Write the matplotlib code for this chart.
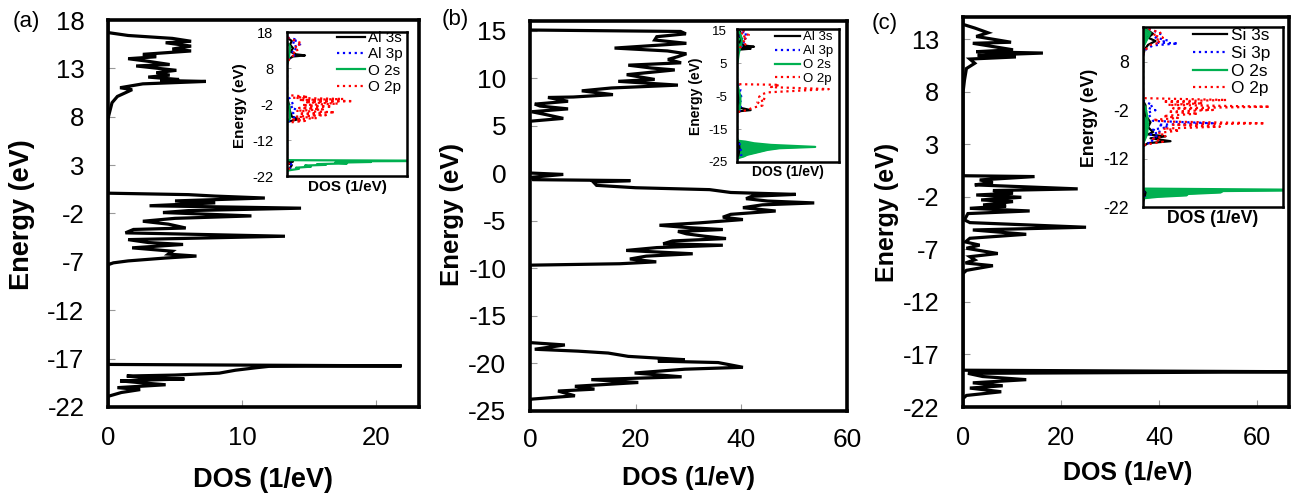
import matplotlib
matplotlib.use("Agg")
import matplotlib.pyplot as plt

plt.rcParams['font.family'] = ['Liberation Sans', 'DejaVu Sans']
plt.rcParams['axes.unicode_minus'] = False

# ---- data: (energy eV, DOS 1/eV) ----
# (a) total DOS
a_total = [(18, 0), (16.7, 0), (16.4, 1.5), (16.1, 4.8), (15.8, 6.2), (15.65, 4.3), (15.3, 6.2), (15.0, 4.8),
           (14.8, 6.2), (14.45, 2.6), (14.2, 3.6), (14.0, 1.5), (13.75, 2.9), (13.4, 4.6), (13.25, 2.1),
           (12.8, 5.1), (12.55, 3.6), (12.3, 4.6), (12.1, 3.0), (11.85, 5.3), (11.75, 3.9), (11.65, 7.3),
           (11.4, 2.6), (11.0, 0.9), (10.8, 1.8), (10.1, 0.7), (9.45, 0.3), (8.1, 0.05), (7.7, 0),
           (0.1, 0), (-0.05, 6), (-0.2, 8), (-0.4, 11.7), (-0.7, 5), (-0.9, 8), (-1.2, 3.1), (-1.45, 14.4),
           (-1.7, 6), (-1.9, 4.1), (-2.25, 10.7), (-2.5, 5), (-2.8, 2.6), (-3.1, 4.5), (-3.5, 5.8), (-3.65, 1.9),
           (-4.0, 1.3), (-4.35, 13.2), (-4.7, 1.5), (-5.0, 3), (-5.2, 5.6), (-5.55, 1.8), (-5.9, 4.8),
           (-6.2, 4.5), (-6.4, 6.6), (-6.6, 4.3), (-6.9, 1.5), (-7.1, 0.4), (-7.3, 0),
           (-17.6, 0), (-17.75, 21.9), (-17.8, 12), (-17.95, 11.0), (-18.2, 9.5), (-18.5, 8.3), (-18.7, 5),
           (-18.8, 1.4), (-19.0, 3), (-19.1, 5.7), (-19.3, 0.9), (-19.5, 2.5), (-19.7, 4.3), (-20.0, 0.7),
           (-20.2, 2.4), (-20.5, 1), (-20.9, 0), (-22, 0)]

# (b) total DOS
b_total = [(16.05, 0), (15.1, 0), (14.95, 28.5), (14.7, 29.5), (14.4, 24), (14.05, 23.6), (13.7, 29.6),
           (13.2, 16), (12.9, 26), (12.6, 29.6), (12.3, 28), (12.0, 26.1), (11.65, 28.6), (11.4, 18.6),
           (11.1, 23), (10.9, 27.4), (10.4, 18.3), (9.9, 23.6), (9.7, 16.7), (9.3, 28), (9.0, 15.4), (8.7, 9.8),
           (8.3, 15.7), (8.05, 8.2), (8.0, 3.4), (7.6, 7.2), (7.3, 0.9), (7.1, 1.9), (6.8, 7.2), (6.5, 0.3),
           (6.2, 3), (5.8, 6.3), (5.5, 0),
           (0.05, 0), (-0.1, 6.3), (-0.4, 0.3), (-0.65, 0.6), (-0.75, 19), (-0.9, 12), (-1.25, 12.6),
           (-1.5, 20), (-1.7, 34), (-2.0, 38), (-2.2, 50.3), (-2.4, 42), (-2.65, 40.9), (-2.9, 45), (-3.1, 53.8),
           (-3.3, 44), (-3.6, 40.3), (-3.95, 46.5), (-4.3, 38), (-4.6, 36.5), (-4.85, 40.3), (-5.2, 32),
           (-5.45, 24.5), (-5.7, 30), (-5.9, 36.5), (-6.1, 28), (-6.35, 29.6), (-6.6, 33), (-6.85, 37.1),
           (-7.1, 27), (-7.4, 25.2), (-7.55, 36.5), (-7.8, 24), (-8.1, 18.2), (-8.45, 30.8), (-8.7, 22),
           (-9.0, 18.9), (-9.3, 23.9), (-9.5, 17), (-9.65, 0),
           (-17.8, 0), (-18.05, 6.6), (-18.5, 0.9), (-18.7, 9.1), (-18.9, 14.8), (-19.25, 18.6), (-19.6, 29.3),
           (-19.75, 24.2), (-19.9, 35.6), (-20.4, 40.3), (-20.6, 29.3), (-21.0, 19.8), (-21.4, 28.7),
           (-21.7, 11.6), (-22.0, 20.5), (-22.4, 8.5), (-22.7, 12.2), (-22.9, 5.3), (-23.4, 8.5), (-23.75, 0.3),
           (-23.9, 0), (-25, 0)]

# (c) total DOS
c_total = [(15.1, 0), (14.4, 0), (14.05, 2.4), (13.6, 5.1), (13.25, 2.7), (12.7, 9.8), (12.6, 2), (11.98, 10.2),
           (11.8, 2.7), (11.67, 16.3), (11.45, 3), (11.3, 10.8), (11.1, 1.4), (10.7, 2.4), (10.2, 0.7),
           (9.1, 0.3), (8.3, 0.1), (8.0, 0),
           (0.0, 0), (-0.08, 14.6), (-0.4, 3.4), (-0.65, 6.1), (-0.87, 2.4), (-1.25, 23.4), (-1.41, 6.1),
           (-1.67, 10.2), (-1.83, 2.7), (-2.05, 11.9), (-2.3, 3.7), (-2.46, 10.2), (-2.78, 4.1), (-2.87, 8.8),
           (-3.1, 1.4), (-3.35, 13.6), (-3.6, 1), (-4.2, 0.3), (-4.46, 1.4), (-4.9, 25.1), (-5.16, 2.0),
           (-5.57, 12.9), (-5.95, 1.4), (-6.3, 0.5), (-6.6, 3.4), (-6.9, 0.7), (-7.4, 7.1), (-7.7, 1.4),
           (-8.0, 2.4), (-8.3, 0.5), (-8.56, 6.1), (-9.0, 0.7), (-9.3, 0),
           (-18.5, 0), (-18.65, 70), (-18.8, 1), (-19.1, 4), (-19.4, 12.9), (-19.7, 2), (-19.98, 8.1),
           (-20.2, 1.4), (-20.55, 7.8), (-20.9, 0.7), (-21.2, 0), (-22, 0)]

# (a) inset: partial DOS
a_s = [(18, 0), (16.5, 0), (15.5, 0.8), (14.5, 0.5), (13.5, 1.0), (12.5, 0.6), (11.8, 1.5), (11.5, 3.0),
       (11.2, 1.0), (10.5, 0.3), (9, 0), (0, 0), (-2, 0.3), (-4, 0.5), (-5.5, 0.8), (-6.2, 2.0), (-6.5, 1.2),
       (-7, 0), (-17.8, 0), (-18, 1.0), (-18.5, 0.3), (-19, 0.8), (-20, 0.4), (-20.8, 0), (-22, 0)]
a_p = [(18, 0), (16.5, 0), (15.8, 1.8), (15.2, 0.8), (14.5, 2.2), (13.8, 1.0), (13.0, 1.6), (12.2, 0.7),
       (11.5, 1.2), (10.5, 0.3), (9, 0), (0, 0), (-0.5, 0.5), (-1.5, 0.8), (-2.5, 1.2), (-3, 0.6), (-3.5, 1.5),
       (-4.5, 1.0), (-5.5, 1.4), (-6.5, 0.6), (-7, 0), (-18, 0), (-18.5, 0.6), (-19.5, 0.9), (-20.5, 0), (-22, 0)]
a_o2s = [(18, 0), (15, 0), (14, 0.5), (12, 0.4), (11, 0.3), (9, 0), (-1, 0), (-3, 0.4), (-6, 0.5), (-7, 0),
         (-17.6, 0), (-17.8, 30), (-17.9, 12), (-18.1, 14), (-18.3, 8), (-18.5, 10), (-18.7, 5), (-18.9, 6.5),
         (-19.1, 3), (-19.4, 4), (-19.7, 1.5), (-20.0, 2), (-20.5, 0), (-22, 0)]
a_o2p = [(18, 0), (16.5, 0), (15.5, 1.5), (14.8, 2.5), (14, 1.3), (13.2, 2.0), (12.5, 1.0), (11.8, 1.5),
         (11, 0.5), (9, 0), (0.5, 0), (0.0, 3.5), (-0.3, 1), (-0.6, 9.4), (-0.9, 2), (-1.2, 11), (-1.5, 3),
         (-1.9, 8.5), (-2.3, 2.5), (-2.7, 7.5), (-3.1, 2), (-3.5, 6), (-3.9, 1.5), (-4.3, 8), (-4.7, 2),
         (-5.1, 6.5), (-5.5, 1.5), (-5.9, 5), (-6.3, 1), (-6.7, 3), (-7.2, 0), (-18, 0), (-19, 0.5),
         (-20, 0.3), (-21, 0), (-22, 0)]

# (b) inset
b_s = [(15.5, 0), (14.5, 2), (13.5, 1), (12.5, 3), (11.5, 1.5), (10.5, 4), (10.1, 10), (9.8, 3), (9.5, 8),
       (9.2, 1), (8.5, 0), (0, 0), (-3, 0.5), (-6, 1), (-8.5, 2), (-9.2, 8), (-9.5, 2), (-10, 0), (-18, 0),
       (-19, 1), (-21, 1.5), (-23, 0.8), (-24, 0), (-25, 0)]
b_p = [(15.5, 0), (14.8, 3), (14, 6), (13.3, 2), (12.6, 5), (12, 3), (11.3, 4), (10.6, 2), (10, 3), (9, 1),
       (8, 0), (0, 0), (-1, 0.5), (-2, 1), (-3, 2), (-4, 1.5), (-5, 2.5), (-6, 1.5), (-7, 2.5), (-8, 2), (-9, 3),
       (-9.5, 1), (-10, 0), (-18, 0), (-19.5, 1.5), (-21, 2), (-22.5, 3), (-23.5, 2), (-24.2, 0), (-25, 0)]
b_o2s = [(15.5, 0), (14, 2), (12, 3), (10, 2), (8, 1), (6, 0.5), (5, 0), (-1, 0), (-3, 1), (-5, 2), (-7, 2),
         (-9, 1.5), (-10, 0), (-18.5, 0), (-18.8, 5), (-19.3, 10), (-19.8, 20), (-20.4, 46), (-20.8, 25),
         (-21.3, 18), (-21.8, 14), (-22.3, 10), (-22.8, 6), (-23.3, 4), (-23.9, 0), (-25, 0)]
b_o2p = [(15.5, 0), (15, 4), (14.3, 2), (13.7, 7), (13, 3), (12.3, 6), (11.5, 3), (10.8, 5), (10, 2), (9, 1),
         (8, 0), (-1.3, 0), (-1.5, 25), (-2.2, 20), (-2.8, 54), (-3.8, 18), (-4.5, 14), (-5.2, 13), (-6.0, 17),
         (-6.8, 12), (-7.8, 15), (-8.5, 9), (-9.2, 6), (-9.8, 0), (-25, 0)]

# (c) inset
c_s = [(15.2, 0), (14.5, 1), (13.8, 2), (13, 1), (12.3, 2.5), (11.5, 1), (10.5, 0.3), (9, 0), (0, 0),
       (-1, 0.5), (-3, 0.5), (-4.5, 1.5), (-5.5, 1), (-6.5, 2), (-7, 1), (-7.4, 4.5), (-7.8, 1.5), (-8.4, 5.5),
       (-8.8, 1), (-9.5, 0), (-18.5, 0), (-19, 0.5), (-20, 0.3), (-21, 0), (-22, 0)]
c_p = [(15.2, 0), (14.5, 2), (13.8, 3.5), (13, 2.5), (12.4, 5), (12, 3), (11.8, 7), (11.4, 2), (10.5, 0.5),
       (9.5, 0), (0, 0), (-0.5, 1), (-1, 2), (-1.5, 1), (-2, 2.5), (-2.5, 1), (-3.5, 1.5), (-4.2, 2), (-4.7, 14),
       (-5.0, 3), (-5.5, 5), (-6, 2), (-6.5, 3.5), (-7, 1.5), (-7.5, 3), (-8, 1.5), (-8.5, 2), (-9.2, 0),
       (-18.5, 0), (-19.5, 0.5), (-21, 0), (-22, 0)]
c_o2s = [(15.2, 0), (14, 1.5), (13, 1), (12, 0.5), (11, 0), (-0.5, 0), (-1.5, 0.5), (-3, 0.8), (-5, 1),
         (-7, 0.8), (-9, 0), (-18.2, 0), (-18.5, 40), (-18.7, 16), (-19.0, 15.5), (-19.3, 9), (-19.6, 8.7),
         (-19.9, 3), (-20.2, 0), (-22, 0)]
c_o2p = [(15.2, 0), (14.5, 2), (14, 3.5), (13.5, 2), (13, 4), (12.5, 2.5), (12, 3.5), (11.5, 1.5), (10.5, 0.5),
         (9.5, 0), (0.5, 0), (0.12, 16.7), (-0.2, 4), (-0.56, 12), (-0.9, 5), (-1.27, 25.4), (-1.6, 6),
         (-1.95, 14), (-2.3, 5), (-2.7, 11), (-3.2, 4), (-3.6, 7), (-4.0, 2), (-4.35, 5), (-4.7, 24.4),
         (-5.0, 6), (-5.4, 15.4), (-5.8, 4), (-6.2, 7.3), (-6.7, 3), (-7.3, 4.7), (-7.9, 2), (-8.5, 4),
         (-9.2, 0), (-22, 0)]

W, H = 1292, 496
fig = plt.figure(figsize=(W / 100, H / 100), dpi=100)
GREEN = '#00b050'


def px_axes(x0, x1, y0, y1, **kw):
    return fig.add_axes([x0 / W, 1 - y1 / H, (x1 - x0) / W, (y1 - y0) / H], **kw)


def curve(ax, pts, **kw):
    e = [p[0] for p in pts]
    d = [p[1] for p in pts]
    return ax.plot(d, e, **kw)


def main_panel(box, total, xlim, ylim, xticks, yticks, fs, xl_pos, yl_pos, xpad):
    ax = px_axes(*box)
    curve(ax, total, color='black', lw=2.3, solid_joinstyle='miter')
    ax.set_xlim(xlim)
    ax.set_ylim(ylim)
    ax.set_xticks(xticks)
    ax.set_yticks(yticks)
    ax.tick_params(direction='in', length=5, width=0.8, color='#999999', labelsize=fs[0])
    ax.tick_params(axis='y', pad=17)
    ax.tick_params(axis='x', pad=xpad)
    for s in ax.spines.values():
        s.set_linewidth(2.6)
    ax.text(xl_pos[0], xl_pos[1], 'DOS (1/eV)', transform=ax.transAxes, ha='center', va='center',
            fontsize=fs[1], fontweight='bold')
    ax.text(yl_pos[0], yl_pos[1], 'Energy (eV)', transform=ax.transAxes, ha='center', va='center',
            rotation=90, fontsize=fs[1], fontweight='bold')
    return ax


def inset(box, series, labels, xlim, ylim, yticks, fs, xl_pos, yl_pos, leg, fill_2s=False):
    ax = px_axes(*box, zorder=5)
    ax.set_facecolor('white')
    s, p, o2s, o2p = series
    if fill_2s:
        ax.fill_betweenx([q[0] for q in o2s], 0, [q[1] for q in o2s], color=GREEN, lw=0)
    curve(ax, s, color='black', lw=1.6, label=labels[0])
    curve(ax, p, color='blue', lw=1.6, ls=':', label=labels[1])
    curve(ax, o2s, color=GREEN, lw=1.6, label=labels[2])
    curve(ax, o2p, color='red', lw=1.6, ls=':', label=labels[3])
    ax.set_xlim(xlim)
    ax.set_ylim(ylim)
    ax.set_yticks(yticks)
    ax.set_xticks([])
    ax.tick_params(direction='in', length=3, width=0.6, color='#999999', labelsize=fs[0], pad=fs[2])
    for sp in ax.spines.values():
        sp.set_linewidth(1.8)
    ax.text(xl_pos[0], xl_pos[1], 'DOS (1/eV)', transform=ax.transAxes, ha='center', va='center',
            fontsize=fs[1], fontweight='bold')
    ax.text(yl_pos[0], yl_pos[1], 'Energy (eV)', transform=ax.transAxes, ha='center', va='center',
            rotation=90, fontsize=fs[1], fontweight='bold')
    hx, ty, lfs, hl, htp, ls = leg
    ax.legend(loc='upper left', bbox_to_anchor=(hx / W, 1 - ty / H), bbox_transform=fig.transFigure,
              frameon=False, borderpad=0, borderaxespad=0, fontsize=lfs, handlelength=hl,
              handletextpad=htp, labelspacing=ls)
    return ax


main_panel((108, 419, 20, 407), a_total, (0, 23.2), (-22, 18), [0, 10, 20],
           [18, 13, 8, 3, -2, -7, -12, -17, -22], (18.5, 19.5), (0.498, -0.189), (-0.277, 0.497), 14)
main_panel((530, 847, 21, 411), b_total, (0, 60), (-25, 16.05), [0, 20, 40, 60],
           [15, 10, 5, 0, -5, -10, -15, -20, -25], (19, 18.5), (0.50, -0.172), (-0.246, 0.503), 12)
main_panel((963, 1289, 17, 407), c_total, (0, 66.5), (-22, 15.1), [0, 20, 40, 60],
           [13, 8, 3, -2, -7, -12, -17, -22], (18.3, 18), (0.505, -0.169), (-0.233, 0.50), 14)

inset((287, 407, 32, 176), (a_s, a_p, a_o2s, a_o2p), ['Al 3s', 'Al 3p', 'O 2s', 'O 2p'],
      (0, 20), (-22, 18), [18, 8, -2, -12, -22], (10.5, 11, 10), (0.504, -0.076), (-0.39, 0.49),
      (337, 31, 11, 1.85, 0.2, 0.15))
inset((737, 839, 29, 162), (b_s, b_p, b_o2s, b_o2p), ['Al 3s', 'Al 3p', 'O 2s', 'O 2p'],
      (0, 60), (-25, 15.5), [15, 5, -5, -15, -25], (9.5, 10, 7), (0.5, -0.073), (-0.405, 0.498),
      (775, 31, 9.5, 1.9, 0.25, 0.13), fill_2s=True)
inset((1143, 1283, 27, 207), (c_s, c_p, c_o2s, c_o2p), ['Si 3s', 'Si 3p', 'O 2s', 'O 2p'],
      (0, 28), (-22, 15.2), [8, -2, -12, -22], (12.8, 12.7, 10), (0.496, -0.063), (-0.379, 0.497),
      (1193, 28, 12.4, 2.0, 0.18, 0.16), fill_2s=True)

fig.text(13 / W, 1 - 22 / H, '(a)', fontsize=16, va='center', ha='left')
fig.text(442 / W, 1 - 20 / H, '(b)', fontsize=16, va='center', ha='left')
fig.text(872 / W, 1 - 23 / H, '(c)', fontsize=16, va='center', ha='left')

fig.savefig('out.png', dpi=100)
